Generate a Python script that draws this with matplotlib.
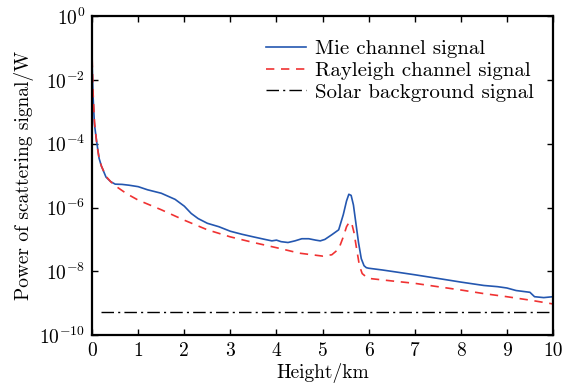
import math
import matplotlib
matplotlib.use('Agg')
import matplotlib.pyplot as plt
from matplotlib.ticker import FixedLocator, FuncFormatter, NullLocator

plt.rcParams['font.family'] = 'cmr10'
plt.rcParams['mathtext.fontset'] = 'cm'
plt.rcParams['axes.unicode_minus'] = False

# height (km) and power (W)
mie_h = [0.0, 0.02, 0.05, 0.1, 0.15, 0.2, 0.3, 0.4, 0.5, 0.65, 0.8, 1.0, 1.2, 1.5, 1.8,
         2.0, 2.15, 2.3, 2.5, 2.75, 3.0, 3.25, 3.5, 3.75, 3.9, 4.0, 4.1, 4.25, 4.4, 4.55,
         4.7, 4.85, 4.95, 5.05, 5.2, 5.35, 5.45, 5.52, 5.57, 5.62, 5.67, 5.72, 5.78, 5.84,
         5.9, 5.95, 6.0, 6.3, 6.6, 7.0, 7.5, 8.0, 8.5, 8.8, 9.0, 9.2, 9.5, 9.6, 9.8, 10.0]
mie_p = [3.0e-2, 3.0e-3, 4.0e-4, 1.1e-4, 3.5e-5, 2.0e-5, 9.0e-6, 6.5e-6, 5.4e-6, 5.3e-6,
         5.0e-6, 4.5e-6, 3.6e-6, 2.8e-6, 1.8e-6, 1.1e-6, 6.5e-7, 4.5e-7, 3.2e-7, 2.5e-7,
         1.8e-7, 1.45e-7, 1.2e-7, 1.0e-7, 9.0e-8, 9.5e-8, 8.5e-8, 8.0e-8, 9.0e-8, 1.05e-7,
         1.05e-7, 9.5e-8, 9.0e-8, 1.0e-7, 1.4e-7, 2.0e-7, 6.0e-7, 1.6e-6, 2.6e-6, 2.4e-6,
         1.2e-6, 3.5e-7, 8.0e-8, 2.5e-8, 1.5e-8, 1.3e-8, 1.25e-8, 1.1e-8, 9.5e-9, 7.8e-9,
         6.0e-9, 4.6e-9, 3.6e-9, 3.3e-9, 3.0e-9, 2.5e-9, 2.2e-9, 1.6e-9, 1.5e-9, 1.6e-9]

ray_h = [0.0, 0.02, 0.05, 0.1, 0.15, 0.2, 0.3, 0.4, 0.5, 0.75, 1.0, 1.5, 2.0, 2.5, 3.0,
         3.5, 4.0, 4.5, 5.0, 5.2, 5.35, 5.45, 5.52, 5.58, 5.63, 5.68, 5.74, 5.8, 5.86,
         5.93, 6.0, 6.5, 7.0, 7.5, 8.0, 8.5, 9.0, 9.5, 10.0]
ray_p = [4.5e-2, 4.0e-3, 5.0e-4, 1.0e-4, 3.5e-5, 2.0e-5, 9.5e-6, 6.5e-6, 4.8e-6, 2.7e-6,
         1.7e-6, 8.5e-7, 4.0e-7, 2.0e-7, 1.2e-7, 8.0e-8, 5.5e-8, 3.7e-8, 3.0e-8, 3.3e-8,
         5.0e-8, 1.2e-7, 2.5e-7, 3.5e-7, 3.3e-7, 1.7e-7, 5.0e-8, 1.5e-8, 8.5e-9, 7.0e-9,
         6.0e-9, 5.0e-9, 4.2e-9, 3.3e-9, 2.6e-9, 2.0e-9, 1.6e-9, 1.25e-9, 9.5e-10]

solar_h = [0.2, 10.0]
solar_p = [5.2e-10, 5.2e-10]

fig = plt.figure(figsize=(5.76, 3.83), dpi=100)
ax = fig.add_axes([0.16, 0.125, 0.8, 0.833])

ax.plot(mie_h, mie_p, color='#2457b0', lw=1.2, label='Mie channel signal')
ax.plot(ray_h, ray_p, color='#f03232', lw=1.2, ls=(0, (5, 4)), label='Rayleigh channel signal')
ax.plot(solar_h, solar_p, color='black', lw=1.0, ls=(0, (9, 3, 1.5, 3)), label='Solar background signal')

ax.set_yscale('log')
ax.set_xlim(0, 10)
ax.set_ylim(1e-10, 1e0)
ax.set_xticks(range(0, 11))
ax.yaxis.set_major_locator(FixedLocator([1e-10, 1e-8, 1e-6, 1e-4, 1e-2, 1e0]))
ax.yaxis.set_minor_locator(NullLocator())
ax.yaxis.set_major_formatter(FuncFormatter(lambda v, p: r'$10^{%d}$' % round(math.log10(v))))
ax.tick_params(direction='in', top=True, right=True, length=4, width=1, labelsize=14, pad=5)
for s in ax.spines.values():
    s.set_linewidth(1.6)

ax.set_xlabel('Height/km', fontsize=14, labelpad=2)
ax.set_ylabel('Power of scattering signal/W', fontsize=14, labelpad=4)
ax.legend(loc='upper right', frameon=False, fontsize=15, handlelength=1.9,
          labelspacing=0.15, handletextpad=0.45, bbox_to_anchor=(1.0, 0.985))

fig.savefig('out.png', dpi=100)
